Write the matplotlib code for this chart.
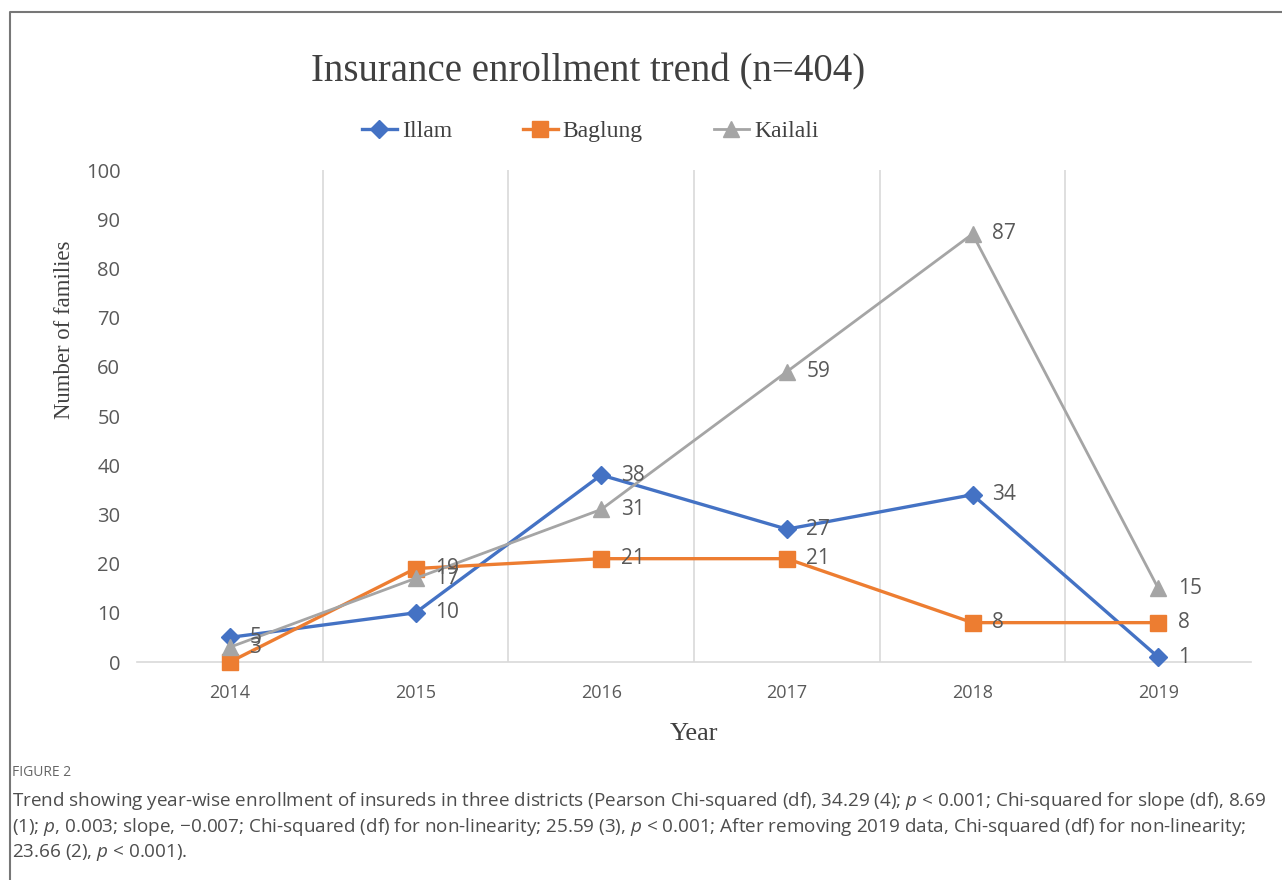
import matplotlib
matplotlib.use("Agg")
import matplotlib.pyplot as plt
from matplotlib.lines import Line2D

years = ["2014", "2015", "2016", "2017", "2018", "2019"]
illam = [5, 10, 38, 27, 34, 1]
baglung = [0, 19, 21, 21, 8, 8]
kailali = [3, 17, 31, 59, 87, 15]
yticks = [0, 10, 20, 30, 40, 50, 60, 70, 80, 90, 100]

title = "Insurance enrollment trend (n=404)"
caption_head = "FIGURE 2"
caption_lines = [
    "Trend showing year-wise enrollment of insureds in three districts (Pearson Chi-squared (df), 34.29 (4); $p$ < 0.001; Chi-squared for slope (df), 8.69",
    "(1); $p$, 0.003; slope, \u22120.007; Chi-squared (df) for non-linearity; 25.59 (3), $p$ < 0.001; After removing 2019 data, Chi-squared (df) for non-linearity;",
    "23.66 (2), $p$ < 0.001).",
]

plt.rcParams["mathtext.fontset"] = "custom"
plt.rcParams["mathtext.rm"] = "Open Sans"
plt.rcParams["mathtext.it"] = "Open Sans:italic"

serif = "Liberation Serif"
sans = "Open Sans"
label_col = "#595959"
grid_col = "#D9D9D9"

fig = plt.figure(figsize=(12.82, 8.80), dpi=100)
ax = fig.add_axes([137 / 1282, 1 - 662 / 880, (1251 - 137) / 1282, (662 - 170) / 880])

x = list(range(len(years)))
series = [
    ("Illam", illam, "#4472C4", "D", 9, 2.4),
    ("Baglung", baglung, "#ED7D31", "s", 11, 2.4),
    ("Kailali", kailali, "#A5A5A5", "^", 11, 2.0),
]
handles = []
for name, vals, col, mk, ms, lw in series:
    h, = ax.plot(x, vals, color=col, marker=mk, markersize=ms, linewidth=lw,
                 clip_on=False, zorder=3, label=name)
    handles.append(h)
    for xi, v in zip(x, vals):
        if v == 0:
            continue  # zero label is not shown in the original
        ax.annotate(str(v), (xi, v), xytext=(14, 0), textcoords="offset points",
                    ha="left", va="center", fontsize=15, color=label_col,
                    family=sans, zorder=4)

ax.set_xlim(-0.5, len(years) - 0.5)
ax.set_ylim(0, 100)
ax.set_xticks(x)
ax.set_xticklabels(years, family=sans, fontsize=13, color=label_col)
ax.set_yticks(yticks)
ax.set_yticklabels([str(t) for t in yticks], family=sans, fontsize=14.5, color=label_col)
ax.tick_params(axis="both", length=0)
ax.tick_params(axis="x", pad=16)
ax.tick_params(axis="y", pad=12)
for s in ["top", "right", "left"]:
    ax.spines[s].set_visible(False)
ax.spines["bottom"].set_color(grid_col)
ax.spines["bottom"].set_linewidth(1.2)
for b in [i + 0.5 for i in range(len(years) - 1)]:
    ax.axvline(b, color=grid_col, linewidth=1.2, zorder=1)

fig.text(588 / 1282, 1 - 72 / 880, title, family=serif, fontsize=28,
         ha="center", va="center", color="#404040")
fig.legend(handles=handles, loc="center", bbox_to_anchor=(590 / 1282, 1 - 131 / 880),
           ncol=3, frameon=False, prop={"family": serif, "size": 17},
           handlelength=1.5, columnspacing=3.0, handletextpad=0.2,
           labelcolor="#404040")
fig.text(65 / 1282, 1 - 330 / 880, "Number of families", family=serif, fontsize=16.4,
         rotation=90, ha="center", va="center", color="#404040")
fig.text(694 / 1282, 1 - 734 / 880, "Year", family=serif, fontsize=19,
         ha="center", va="center", color="#404040")

fig.text(12 / 1282, 1 - 772 / 880, caption_head, family=sans, fontsize=10,
         ha="left", va="center", color="#666666")
for i, line in enumerate(caption_lines):
    fig.text(12 / 1282, 1 - (801 + 25.5 * i) / 880, line, family=sans, fontsize=13.6,
             ha="left", va="center", color="#4d4d4d")

# outer frame (left and top edges)
fig.add_artist(Line2D([10 / 1282, 10 / 1282, 1.0], [0.0, 1 - 12 / 880, 1 - 12 / 880],
                      transform=fig.transFigure, color="#777777", linewidth=1.5))

fig.savefig("out.png", dpi=100)
